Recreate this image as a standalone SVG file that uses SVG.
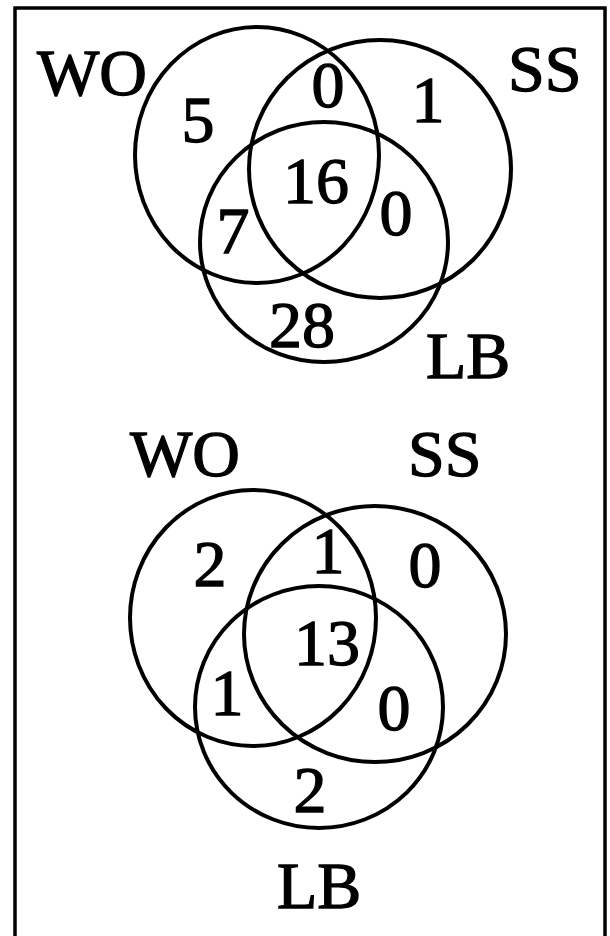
<svg xmlns="http://www.w3.org/2000/svg" width="610" height="936" viewBox="0 0 610 936">
  <style>
    .frame { fill: none; stroke: #000; stroke-width: 3.5; }
    .set { fill: none; stroke: #000; stroke-width: 4; }
    .lbl { font-family: "Liberation Serif", "Times New Roman", serif; font-size: 66px; fill: #000; stroke: #000; stroke-width: 1.3; }
    .num { font-family: "Liberation Serif", "Times New Roman", serif; font-size: 66px; fill: #000; stroke: #000; stroke-width: 1.3; text-anchor: middle; }
  </style>
  <rect width="610" height="936" fill="#fff"/>
  <rect class="frame" x="15" y="8" width="590" height="940"/>

  <!-- upper diagram -->
  <g id="upper">
    <g id="upper-wo">
      <ellipse class="set" cx="257" cy="155" rx="122" ry="128"/>
      <text class="lbl" x="37" y="95">WO</text>
    </g>
    <g id="upper-ss">
      <ellipse class="set" cx="380" cy="169" rx="131" ry="129"/>
      <text class="lbl" x="508" y="91">SS</text>
    </g>
    <g id="upper-lb">
      <ellipse class="set" cx="324" cy="242" rx="124" ry="120"/>
      <text class="lbl" x="426" y="378">LB</text>
    </g>
    <g id="upper-counts">
      <text class="num" x="198" y="142">5</text>
      <text class="num" x="328" y="107">0</text>
      <text class="num" x="428" y="122">1</text>
      <text class="num" x="316" y="203">16</text>
      <text class="num" x="396" y="235">0</text>
      <text class="num" x="233" y="253">7</text>
      <text class="num" x="302" y="347">28</text>
    </g>
  </g>

  <!-- lower diagram -->
  <g id="lower">
    <g id="lower-wo">
      <ellipse class="set" cx="253" cy="618" rx="123" ry="128"/>
      <text class="lbl" x="130" y="476">WO</text>
    </g>
    <g id="lower-ss">
      <ellipse class="set" cx="375" cy="634" rx="131" ry="128"/>
      <text class="lbl" x="408" y="476">SS</text>
    </g>
    <g id="lower-lb">
      <ellipse class="set" cx="319" cy="707" rx="124" ry="121"/>
      <text class="lbl" x="277" y="908">LB</text>
    </g>
    <g id="lower-counts">
      <text class="num" x="210" y="586">2</text>
      <text class="num" x="328" y="573">1</text>
      <text class="num" x="425" y="587">0</text>
      <text class="num" x="327" y="665">13</text>
      <text class="num" x="227" y="715">1</text>
      <text class="num" x="394" y="730">0</text>
      <text class="num" x="310" y="812">2</text>
    </g>
  </g>
</svg>
